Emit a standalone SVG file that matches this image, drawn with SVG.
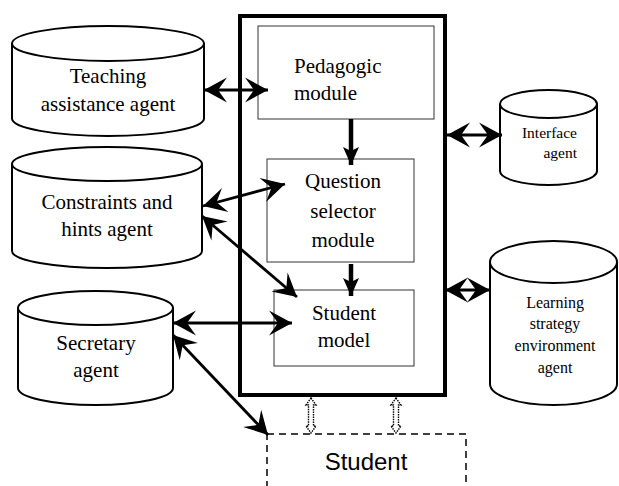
<svg xmlns="http://www.w3.org/2000/svg" width="619" height="486" viewBox="0 0 619 486">
<style>
.cyl{fill:#fff;stroke:#000;stroke-width:2}
.mod{fill:#fff;stroke:#333;stroke-width:1}
.t{font-family:"Liberation Serif","Times New Roman",serif;fill:#000}
.big{font-size:21px}
.sm{font-size:15.5px}
.con{stroke:#000;fill:none;stroke-width:2.8}
.thick{stroke:#000;fill:none;stroke-width:4.5}
.hollow{fill:#fff;stroke:#000;stroke-width:1.4;stroke-dasharray:1.5 1}
</style>
<defs>
<marker id="ah" markerUnits="userSpaceOnUse" viewBox="0 0 24 26" markerWidth="24" markerHeight="26" refX="24" refY="13" orient="auto-start-reverse">
<path d="M24,13 L1,0.5 L10,13 L1,25.5 Z" fill="#000"/>
</marker>
<marker id="ahs" markerUnits="userSpaceOnUse" viewBox="0 0 18 16" markerWidth="18" markerHeight="16" refX="18" refY="8" orient="auto">
<path d="M18,8 L0,0 L4,8 L0,16 Z" fill="#000"/>
</marker>
</defs>
<rect width="619" height="486" fill="#fff"/>

<g id="main-box">
<rect x="240" y="16" width="205" height="379" fill="none" stroke="#000" stroke-width="4"/>
</g>

<g id="teaching">
<path class="cyl" d="M12,43.5 L12,118.5 A96,17.5 0 0 0 204,118.5 L204,43.5"/>
<ellipse class="cyl" cx="108" cy="43.5" rx="96" ry="17.5"/>
<text class="t big" x="108" y="83" text-anchor="middle">Teaching</text>
<text class="t big" x="108" y="111" text-anchor="middle">assistance agent</text>
</g>

<g id="constraints">
<path class="cyl" d="M12,164 L12,251 A95,17 0 0 0 202,251 L202,164"/>
<ellipse class="cyl" cx="107" cy="164" rx="95" ry="17"/>
<text class="t big" x="107" y="209" text-anchor="middle">Constraints and</text>
<text class="t big" x="107" y="236" text-anchor="middle">hints agent</text>
</g>

<g id="secretary">
<path class="cyl" d="M18,308 L18,388 A77.5,17 0 0 0 173,388 L173,308"/>
<ellipse class="cyl" cx="95.5" cy="308" rx="77.5" ry="17"/>
<text class="t big" x="96" y="350" text-anchor="middle">Secretary</text>
<text class="t big" x="96" y="377" text-anchor="middle">agent</text>
</g>

<g id="interface">
<path class="cyl" d="M500,104 L500,171 A48.5,14 0 0 0 597,171 L597,104"/>
<ellipse class="cyl" cx="548.5" cy="104" rx="48.5" ry="14"/>
<text class="t sm" x="577" y="138" text-anchor="end">Interface</text>
<text class="t sm" x="577" y="158" text-anchor="end">agent</text>
</g>

<g id="learning">
<path class="cyl" d="M490,262 L490,384 A63.5,21 0 0 0 617,384 L617,262"/>
<ellipse class="cyl" cx="553.5" cy="262" rx="63.5" ry="21"/>
<text class="t" font-size="16" x="555" y="308" text-anchor="middle">Learning</text>
<text class="t" font-size="16" x="555" y="329" text-anchor="middle">strategy</text>
<text class="t" font-size="16" x="555" y="351" text-anchor="middle">environment</text>
<text class="t" font-size="16" x="555" y="373" text-anchor="middle">agent</text>
</g>

<g id="pedagogic">
<rect class="mod" x="258" y="26" width="176" height="93"/>
<text class="t big" x="294" y="73">Pedagogic</text>
<text class="t big" x="294" y="100">module</text>
</g>

<g id="question">
<rect class="mod" x="267" y="159" width="147" height="103"/>
<text class="t big" x="343" y="188" text-anchor="middle">Question</text>
<text class="t big" x="343" y="218" text-anchor="middle">selector</text>
<text class="t big" x="343" y="247" text-anchor="middle">module</text>
</g>

<g id="student-model">
<rect class="mod" x="274" y="290" width="140" height="76"/>
<text class="t big" x="344" y="320" text-anchor="middle">Student</text>
<text class="t big" x="344" y="347" text-anchor="middle">model</text>
</g>

<g id="student">
<rect x="267" y="434" width="199" height="80" fill="none" stroke="#000" stroke-width="1.5" stroke-dasharray="7 5"/>
<text x="366" y="470" text-anchor="middle" font-family="'Liberation Sans',Arial,sans-serif" font-size="24">Student</text>
</g>

<g id="connectors">
<line class="con" x1="204" y1="90" x2="268" y2="90" marker-start="url(#ah)" marker-end="url(#ah)"/>
<line class="con" x1="203" y1="206" x2="285" y2="184" marker-start="url(#ah)" marker-end="url(#ah)"/>
<line class="con" x1="202" y1="216" x2="297" y2="297" marker-start="url(#ah)" marker-end="url(#ah)"/>
<line class="con" x1="173" y1="323" x2="292" y2="323" marker-start="url(#ah)" marker-end="url(#ah)"/>
<line class="con" x1="173" y1="335" x2="268" y2="435" marker-start="url(#ah)" marker-end="url(#ah)"/>
<line class="con" x1="447" y1="135" x2="502" y2="135" marker-start="url(#ah)" marker-end="url(#ah)"/>
<line class="con" x1="445" y1="290" x2="490" y2="290" marker-start="url(#ah)" marker-end="url(#ah)"/>
<line class="thick" x1="351" y1="119" x2="351" y2="165" marker-end="url(#ahs)"/>
<line class="thick" x1="351" y1="264" x2="351" y2="296" marker-end="url(#ahs)"/>
<polygon class="hollow" points="311,398 316,405 313.5,405 313.5,426 316,426 311,433 306,426 308.5,426 308.5,405 306,405"/>
<polygon class="hollow" points="396,398 401,405 398.5,405 398.5,426 401,426 396,433 391,426 393.5,426 393.5,405 391,405"/>
</g>
</svg>
